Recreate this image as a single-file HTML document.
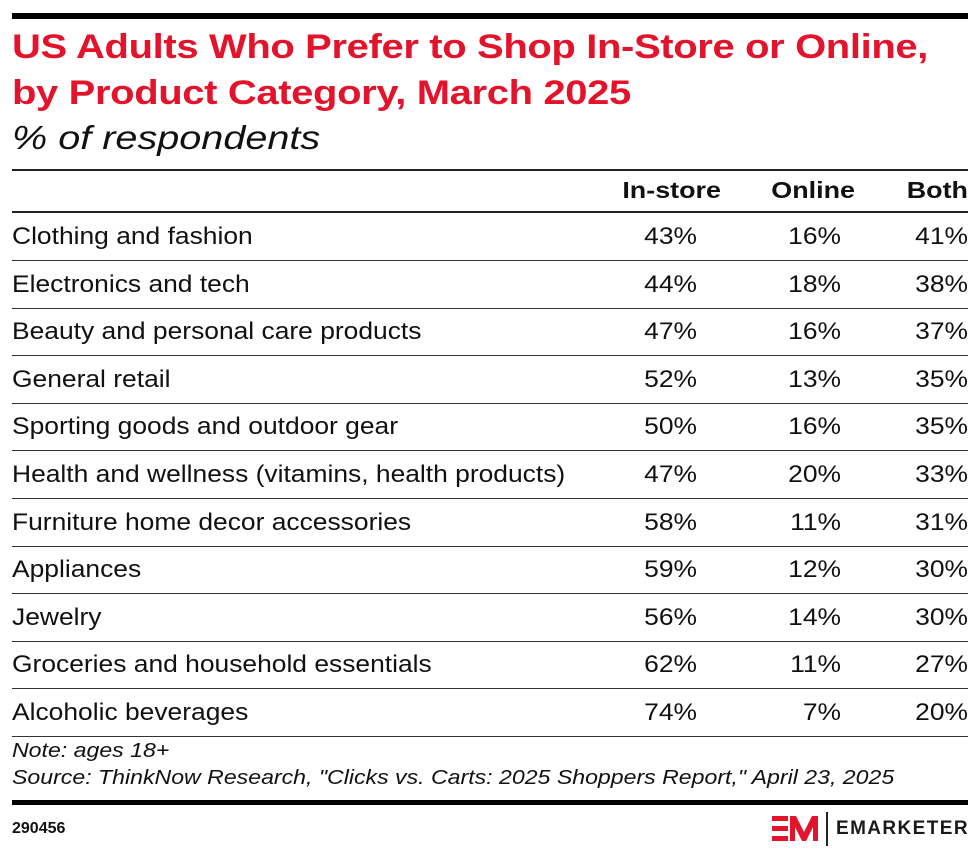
<!DOCTYPE html>
<html><head><meta charset="utf-8"><style>
body{margin:0;background:#fff;width:980px;height:856px;position:relative;overflow:hidden;font-family:"Liberation Sans",sans-serif;color:#111}
.a{position:absolute;white-space:nowrap}
.ln{position:absolute;left:12px;width:956px;background:#222}
.t{font-weight:bold;color:#e3132b;font-size:34px;left:12px;letter-spacing:-0.3px;transform:scaleX(1.175);transform-origin:left}
.r{font-size:24px;left:12px;transform:scaleX(1.1);transform-origin:left}
.v{font-size:24px;text-align:right;width:80px;transform:scaleX(1.1);transform-origin:right}
.h{font-weight:bold;font-size:23px;text-align:right;width:120px;transform:scaleX(1.17);transform-origin:right}
.n{font-size:20px;font-style:italic;left:12px;transform:scaleX(1.155);transform-origin:left}
</style></head><body>
<div class="ln" style="top:13px;height:6px;background:#000"></div>
<div class="a t" style="top:28px">US Adults Who Prefer to Shop In-Store or Online,</div>
<div class="a t" style="top:74px">by Product Category, March 2025</div>
<div class="a" style="left:12px;top:119px;font-size:33px;font-style:italic;transform:scaleX(1.2);transform-origin:left">% of respondents</div>
<div class="ln" style="top:169px;height:2px"></div>
<div class="a h" style="left:601px;top:177px">In-store</div>
<div class="a h" style="left:735px;top:177px">Online</div>
<div class="a h" style="left:848px;top:177px">Both</div>
<div class="ln" style="top:211px;height:2px"></div>
<div id="rows"></div>
<script>
var d=[["Clothing and fashion",43,16,41],["Electronics and tech",44,18,38],["Beauty and personal care products",47,16,37],["General retail",52,13,35],["Sporting goods and outdoor gear",50,16,35],["Health and wellness (vitamins, health products)",47,20,33],["Furniture home decor accessories",58,11,31],["Appliances",59,12,30],["Jewelry",56,14,30],["Groceries and household essentials",62,11,27],["Alcoholic beverages",74,7,20]];
var h="";
d.forEach(function(r,i){var c=237+i*47.6;var top=c-14;
h+='<div class="a r" style="top:'+top+'px">'+r[0]+'</div>';
h+='<div class="a v" style="left:617px;top:'+top+'px">'+r[1]+'%</div>';
h+='<div class="a v" style="left:761px;top:'+top+'px">'+r[2]+'%</div>';
h+='<div class="a v" style="left:888px;top:'+top+'px">'+r[3]+'%</div>';
h+='<div class="ln" style="top:'+(c+23)+'px;height:1px;background:#333"></div>';});
document.getElementById('rows').innerHTML=h;
</script>
<div class="a n" style="top:740px">Note: ages 18+</div>
<div class="a n" style="top:767px">Source: ThinkNow Research, "Clicks vs. Carts: 2025 Shoppers Report," April 23, 2025</div>
<div class="ln" style="top:800px;height:5px;background:#000"></div>
<div class="a" style="left:12px;top:820px;font-size:16px;font-weight:bold">290456</div>
<svg class="a" style="left:772px;top:812px" width="50" height="34" viewBox="0 0 50 34">
<rect x="0" y="4" width="16" height="5" fill="#e3132b"/><rect x="0" y="14" width="16" height="5" fill="#e3132b"/><rect x="0" y="24" width="16" height="5" fill="#e3132b"/>
<polygon points="18,4 24,4 32,20 40,4 46,4 46,29 41,29 41,15 34,29 30,29 23,15 23,29 18,29" fill="#e3132b"/>
</svg>
<div class="a" style="left:826px;top:812px;width:2px;height:34px;background:#222"></div>
<div class="a" style="left:836px;top:818px;font-size:19px;font-weight:bold;letter-spacing:1.4px;color:#1a1a1a">EMARKETER</div>
</body></html>
